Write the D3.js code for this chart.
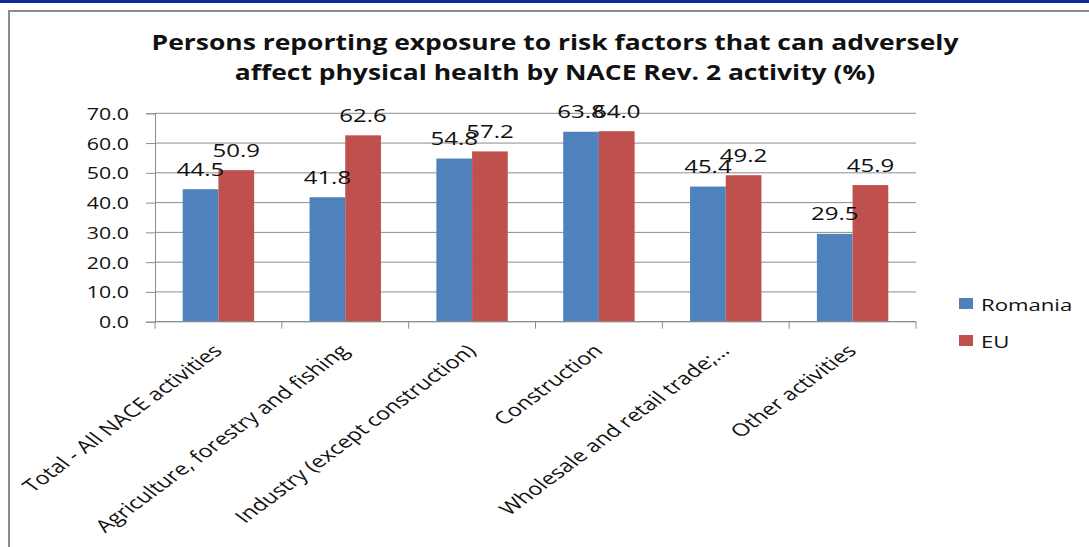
<!DOCTYPE html>
<html>
<head>
<meta charset="utf-8">
<script src="https://cdn.jsdelivr.net/npm/d3@7"></script>
<style>
  html, body { margin: 0; padding: 0; background: #fff; }
  svg { display: block; font-family: "Open Sans", sans-serif; }
</style>
</head>
<body>
<svg id="chart" width="1089" height="547"></svg>
<script>
// Activity categories (NACE Rev. 2)
const categories = [
  "Total - All NACE activities",
  "Agriculture, forestry and fishing",
  "Industry (except construction)",
  "Construction",
  "Wholesale and retail trade;…",
  "Other activities"
];
// Share of persons reporting exposure (%)
const romania = [44.5, 41.8, 54.8, 63.8, 45.4, 29.5];
const eu      = [50.9, 62.6, 57.2, 64.0, 49.2, 45.9];
const seriesNames = ["Romania", "EU"];
const yTicks = [0, 10, 20, 30, 40, 50, 60, 70];
const titleLines = [
  "Persons reporting exposure to risk factors that can adversely",
  "affect physical health by NACE Rev. 2 activity (%)"
];

const colors = ["#4F81BD", "#C0504D"];
const gridColor = "#8c8c8c";
const textColor = "#111";
const sx = 1.35; // horizontal stretch of text glyphs

const svg = d3.select("#chart");

// top banner and frame
svg.append("rect").attr("x", 0).attr("y", 0).attr("width", 1089).attr("height", 3).attr("fill", "#0b2a8f");
svg.append("rect").attr("x", 8).attr("y", 10).attr("width", 1081).attr("height", 2).attr("fill", "#8c8c8c");
svg.append("rect").attr("x", 8).attr("y", 10).attr("width", 2).attr("height", 537).attr("fill", "#8c8c8c");

const plot = { left: 155, right: 916, top: 113.3, bottom: 321.7 };

const x0 = d3.scaleBand().domain(categories).range([plot.left, plot.right]).paddingInner(0).paddingOuter(0);
const groupPad = 0.2185;
const x1 = d3.scaleBand().domain(seriesNames)
  .range([x0.bandwidth() * groupPad, x0.bandwidth() * (1 - groupPad)]);
const y = d3.scaleLinear().domain([0, 70]).range([plot.bottom, plot.top]);

// gridlines
svg.append("g").selectAll("line").data(yTicks).join("line")
  .attr("x1", plot.left).attr("x2", plot.right)
  .attr("y1", d => y(d)).attr("y2", d => y(d))
  .attr("stroke", gridColor).attr("stroke-width", 1);

// y axis
const yAxis = d3.axisLeft(y).tickValues(yTicks).tickSize(9).tickFormat(d3.format(".1f"));
const gy = svg.append("g").attr("transform", `translate(${plot.left},0)`).call(yAxis);
gy.select(".domain").attr("stroke", gridColor);
gy.selectAll(".tick line").attr("stroke", gridColor);
gy.selectAll(".tick text").remove();
svg.append("g").selectAll("text").data(yTicks).join("text")
  .attr("transform", d => `translate(129,${y(d) + 6.5}) scale(${sx},1)`)
  .attr("text-anchor", "end")
  .attr("font-size", 15.8)
  .attr("fill", textColor)
  .text(d => d3.format(".1f")(d));

// bars
const rows = categories.map((c, i) => ({ cat: c, vals: [romania[i], eu[i]] }));
const groups = svg.append("g").selectAll("g").data(rows).join("g")
  .attr("transform", d => `translate(${x0(d.cat)},0)`);
groups.selectAll("rect").data(d => d.vals.map((v, j) => ({ s: seriesNames[j], v, j }))).join("rect")
  .attr("x", d => x1(d.s)).attr("width", x1.bandwidth())
  .attr("y", d => y(d.v)).attr("height", d => y(0) - y(d.v))
  .attr("fill", d => colors[d.j]);

// bottom axis
const gx = svg.append("g");
gx.append("line").attr("x1", plot.left).attr("x2", plot.right)
  .attr("y1", plot.bottom).attr("y2", plot.bottom).attr("stroke", gridColor);
const bounds = categories.map(c => x0(c)).concat([plot.right]);
gx.selectAll("line.tick").data(bounds).join("line").attr("class", "tick")
  .attr("x1", d => d).attr("x2", d => d)
  .attr("y1", plot.bottom).attr("y2", plot.bottom + 7).attr("stroke", gridColor);

// data labels
groups.selectAll("text").data(d => d.vals.map((v, j) => ({ s: seriesNames[j], v, j }))).join("text")
  .attr("transform", d => `translate(${x1(d.s) + x1.bandwidth() / 2},${y(d.v) - 13.5}) scale(${sx},1)`)
  .attr("text-anchor", "middle")
  .attr("font-size", 17.8)
  .attr("fill", textColor)
  .text(d => d3.format(".1f")(d.v));

// category labels
svg.append("g").selectAll("text").data(categories).join("text")
  .attr("transform", d => `translate(${x0(d) + x0.bandwidth() / 2 + 5},352) scale(${sx},1) rotate(-45)`)
  .attr("text-anchor", "end")
  .attr("font-size", 17.5)
  .attr("fill", textColor)
  .text(d => d);

// title
svg.append("g").selectAll("text").data(titleLines).join("text")
  .attr("transform", (d, i) => `translate(555,${50 + i * 30}) scale(1.26,1)`)
  .attr("text-anchor", "middle")
  .attr("font-size", 21)
  .attr("font-weight", "bold")
  .attr("fill", textColor)
  .text(d => d);

// legend
const legend = svg.append("g").selectAll("g").data(seriesNames).join("g")
  .attr("transform", (d, i) => `translate(959,${298 + i * 37})`);
legend.append("rect").attr("width", 14).attr("height", 11).attr("fill", (d, i) => colors[i]);
legend.append("text")
  .attr("transform", `translate(22,13) scale(${sx},1)`)
  .attr("font-size", 16.4)
  .attr("fill", textColor)
  .text(d => d);
</script>
</body>
</html>
